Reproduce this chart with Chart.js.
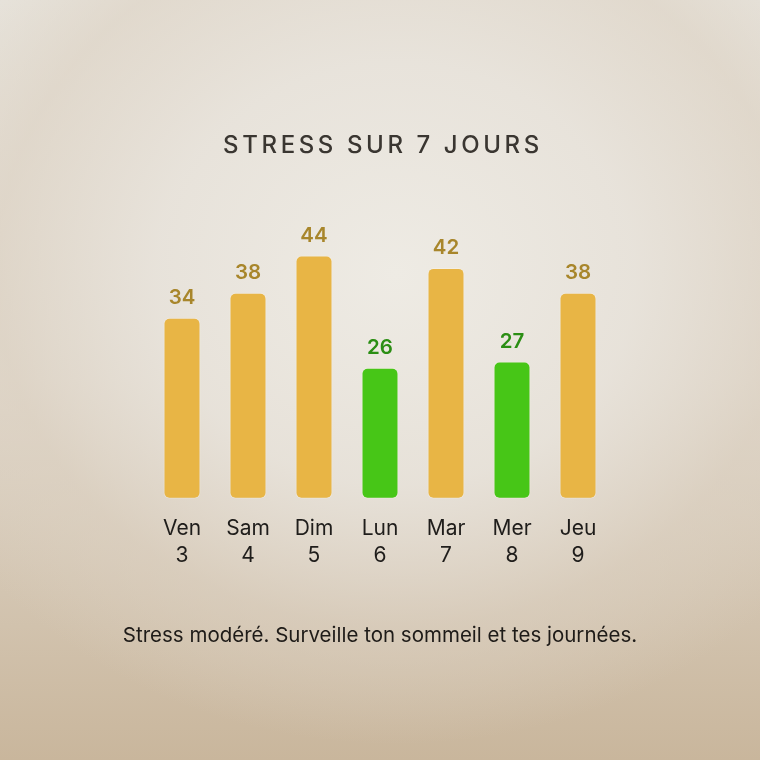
<!DOCTYPE html>
<html>
<head>
<meta charset="utf-8">
<script src="https://cdn.jsdelivr.net/npm/chart.js@4/dist/chart.umd.min.js"></script>
<style>
  html, body { margin: 0; padding: 0; }
  body {
    width: 760px; height: 760px; overflow: hidden; position: relative;
    background:
      radial-gradient(ellipse 70% 62% at 52% 36%, rgba(238,235,228,1) 0%, rgba(232,227,219,0.9) 45%, rgba(220,209,194,0.6) 75%, rgba(198,181,156,0) 100%),
      linear-gradient(180deg, #E8E5DE 0%, #E0D8CC 50%, #C9B69C 100%);
    font-family: Inter, "Noto Sans", sans-serif;
  }
  #title {
    position: absolute; left: 0; width: 760px; top: 128px; text-align: center;
    font-size: 24px; font-weight: 500; letter-spacing: 3.6px; color: #3A3631;
    line-height: 34px; padding-left: 3px;
  }
  #caption {
    position: absolute; left: 0; width: 760px; top: 620px; text-align: center;
    font-size: 20.5px; font-weight: 400; color: #1E1B18; line-height: 30px;
  }
  #wrap { position: absolute; left: 0; top: 0; width: 760px; height: 760px; }
</style>
</head>
<body>
<div id="wrap"><canvas id="c" width="760" height="760"></canvas></div>
<div id="title">STRESS SUR 7 JOURS</div>
<div id="caption">Stress modéré. Surveille ton sommeil et tes journées.</div>
<script>
const days = ["Ven", "Sam", "Dim", "Lun", "Mar", "Mer", "Jeu"];
const dates = ["3", "4", "5", "6", "7", "8", "9"];
const stress = [34, 38, 44, 26, 42, 27, 38];
const levels = ["mod", "mod", "mod", "low", "mod", "low", "mod"];

const barColors = { mod: "#E8B545", low: "#47C617" };
const textColors = { mod: "#A8862B", low: "#2B8E14" };

const valueLabels = {
  id: "valueLabels",
  afterDatasetsDraw(chart) {
    const ctx = chart.ctx;
    const meta = chart.getDatasetMeta(0);
    ctx.save();
    ctx.font = "600 20.5px Inter, 'Noto Sans', sans-serif";
    ctx.textAlign = "center";
    ctx.textBaseline = "middle";
    meta.data.forEach((bar, i) => {
      ctx.fillStyle = textColors[levels[i]];
      ctx.fillText(String(stress[i]), bar.x, bar.y - 20);
    });
    ctx.restore();
  }
};

new Chart(document.getElementById("c"), {
  type: "bar",
  data: {
    labels: days.map((d, i) => [d, dates[i]]),
    datasets: [{
      data: stress,
      base: 5,
      backgroundColor: levels.map(l => barColors[l]),
      borderColor: "rgba(255,250,235,0.35)",
      borderWidth: 1,
      borderSkipped: false,
      borderRadius: 6,
      categoryPercentage: 1,
      barPercentage: 0.56
    }]
  },
  options: {
    responsive: false,
    animation: false,
    layout: { padding: { left: 149, right: 149, top: 218, bottom: 174 } },
    plugins: { legend: { display: false }, tooltip: { enabled: false } },
    scales: {
      y: { display: false, min: 5, max: 50 },
      x: {
        grid: { display: false, drawTicks: false },
        border: { display: false },
        ticks: {
          color: "#1F1D1B",
          padding: 17,
          font: { family: "Inter, 'Noto Sans', sans-serif", size: 21, lineHeight: 1.27 }
        }
      }
    }
  },
  plugins: [valueLabels]
});
</script>
</body>
</html>
